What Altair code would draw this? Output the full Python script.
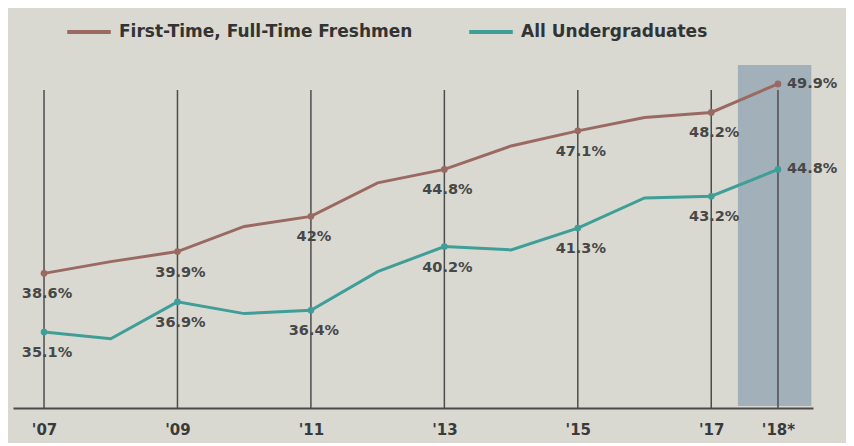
import altair as alt
import pandas as pd

years = list(range(2007, 2019))
ftft = [38.6, 39.3, 39.9, 41.4, 42.0, 44.0, 44.8, 46.2, 47.1, 47.9, 48.2, 49.9]
au = [35.1, 34.7, 36.9, 36.2, 36.4, 38.7, 40.2, 40.0, 41.3, 43.1, 43.2, 44.8]

label_years = [2007, 2009, 2011, 2013, 2015, 2017, 2018]
ftft_labels = ["38.6%", "39.9%", "42%", "44.8%", "47.1%", "48.2%", "49.9%"]
au_labels = ["35.1%", "36.9%", "36.4%", "40.2%", "41.3%", "43.2%", "44.8%"]
tick_text = ["'07", "'09", "'11", "'13", "'15", "'17", "'18*"]

S1 = "First-Time, Full-Time Freshmen"
S2 = "All Undergraduates"

rows = []
for y, a, b in zip(years, ftft, au):
    rows.append({"year": y, "value": a, "series": S1})
    rows.append({"year": y, "value": b, "series": S2})
df = pd.DataFrame(rows)

lab_rows = []
for y, la, lb in zip(label_years, ftft_labels, au_labels):
    lab_rows.append({"year": y, "value": ftft[years.index(y)], "series": S1, "label": la})
    lab_rows.append({"year": y, "value": au[years.index(y)], "series": S2, "label": lb})
lab = pd.DataFrame(lab_rows)

grid = pd.DataFrame({"year": label_years})
shade = pd.DataFrame({"x": [2017.4], "x2": [2018.5]})

xscale = alt.Scale(domain=[2006.535, 2018.525], nice=False, zero=False)
yscale = alt.Scale(domain=[30.57, 54.13], nice=False, zero=False)
colors = alt.Scale(domain=[S1, S2], range=["#9a6a62", "#3f9e97"])

mapping = ",".join(f"{y}:\"{t}\"" for y, t in zip(label_years, tick_text))
label_expr = "{" + mapping + "}[datum.value]"

FONT = "DejaVu Sans"

x_axis = alt.Axis(values=label_years, labelExpr=label_expr, title=None, ticks=False, grid=False,
                  domainColor="#4a4a4a", domainWidth=2, labelFontSize=15, labelFont=FONT,
                  labelFontWeight=700, labelColor="#3a3a3a", labelPadding=14)

shade_layer = alt.Chart(shade).mark_rect(color="#8fa3b0", opacity=0.75).encode(
    x=alt.X("x:Q", scale=xscale, axis=x_axis),
    x2="x2:Q",
    y=alt.value(52),
    y2=alt.value(393),
)

grid_layer = alt.Chart(grid).mark_rule(color="#4d4d4d", strokeWidth=1.5).encode(
    x=alt.X("year:Q", scale=xscale),
    y=alt.value(77),
    y2=alt.value(395),
)

lines = alt.Chart(df).mark_line(strokeWidth=3).encode(
    x=alt.X("year:Q", scale=xscale),
    y=alt.Y("value:Q", scale=yscale, axis=None),
    color=alt.Color("series:N", scale=colors, legend=alt.Legend(
        title=None, orient="none", legendX=52, legendY=-5, direction="horizontal",
        symbolType="stroke", symbolSize=1900, symbolStrokeWidth=4,
        labelFontSize=17, labelFont=FONT, labelFontWeight=700, labelColor="#333333",
        columnPadding=48, labelOffset=6, labelLimit=400)),
)

pts = alt.Chart(lab).mark_circle(size=45, opacity=1).encode(
    x=alt.X("year:Q", scale=xscale),
    y=alt.Y("value:Q", scale=yscale),
    color=alt.Color("series:N", scale=colors, legend=None),
)

txt_below = alt.Chart(lab).transform_filter("datum.year < 2018").mark_text(
    dy=21, dx=3, fontSize=14.5, font=FONT, fontWeight=700, color="#474747"
).encode(
    x=alt.X("year:Q", scale=xscale),
    y=alt.Y("value:Q", scale=yscale),
    text="label:N",
)

txt_right = alt.Chart(lab).transform_filter("datum.year == 2018").mark_text(
    dx=9, align="left", baseline="middle", fontSize=14.5, font=FONT, fontWeight=700, color="#474747"
).encode(
    x=alt.X("year:Q", scale=xscale),
    y=alt.Y("value:Q", scale=yscale),
    text="label:N",
)

chart = alt.layer(shade_layer, grid_layer, lines, pts, txt_below, txt_right).properties(
    width=800, height=395, background="#d9d9d2",
    autosize=alt.AutoSizeParams(type="none"),
    padding={"left": 5, "top": 5, "right": 33, "bottom": 35},
).configure_view(stroke=None)

chart.save("out.html", embed_options={"renderer": "svg", "actions": False})
